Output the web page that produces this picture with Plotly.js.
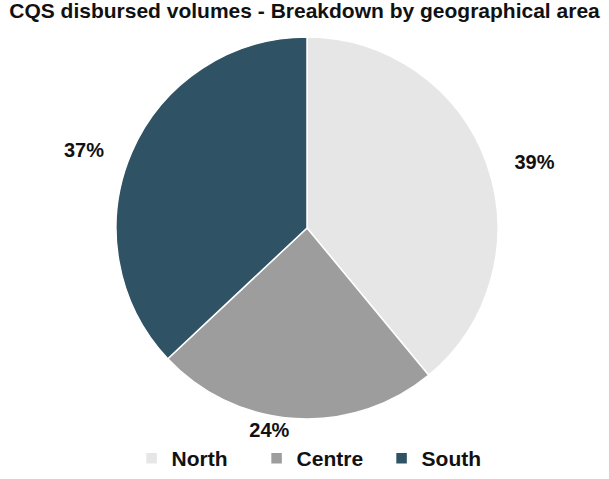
<!DOCTYPE html>
<html><head><meta charset="utf-8">
<script src="https://cdn.plot.ly/plotly-3.0.1.min.js"></script>
<style>html,body{margin:0;padding:0;background:#fff}#chart{width:609px;height:479px}</style>
</head><body><div id="chart"></div>
<script>
const areas = ["North", "Centre", "South"];
const shares = [39, 24, 37];
const colors = ["#e6e6e6", "#9d9d9d", "#2f5264"];
const FONT = "'Liberation Sans', Arial, sans-serif";
const PAD = "&nbsp;&nbsp;&nbsp;&nbsp;";
const templates = [PAD + "%{percent:.0%}", "%{percent:.0%}", "%{percent:.0%}" + PAD];

const trace = {
  type: "pie",
  labels: areas,
  values: shares,
  sort: false,
  direction: "clockwise",
  rotation: 0,
  marker: {colors: colors, line: {color: "#ffffff", width: 1.5}},
  textinfo: "percent",
  texttemplate: templates,
  textposition: "outside",
  outsidetextfont: {family: FONT, size: 20, color: "#111", weight: "bold"},
  hoverinfo: "label+percent"
};
const layout = {
  width: 609, height: 479,
  margin: {l: 5, r: 0, t: 37, b: 60},
  paper_bgcolor: "#fff",
  font: {family: FONT, color: "#111"},
  title: {text: "CQS disbursed volumes - Breakdown by geographical area",
          font: {family: FONT, size: 21, color: "#111", weight: "bold"}, x: 0.5, xanchor: "center", y: 0.977, yanchor: "middle"},
  showlegend: true,
  legend: {orientation: "h", x: 0.52, xanchor: "center", yref: "container", y: 0.0, yanchor: "bottom",
           font: {family: FONT, size: 21, color: "#111", weight: "bold"}, traceorder: "normal",
           itemwidth: 30, entrywidth: 80}
};
Plotly.newPlot("chart", [trace], layout, {displayModeBar: false, staticPlot: true});
</script></body></html>
